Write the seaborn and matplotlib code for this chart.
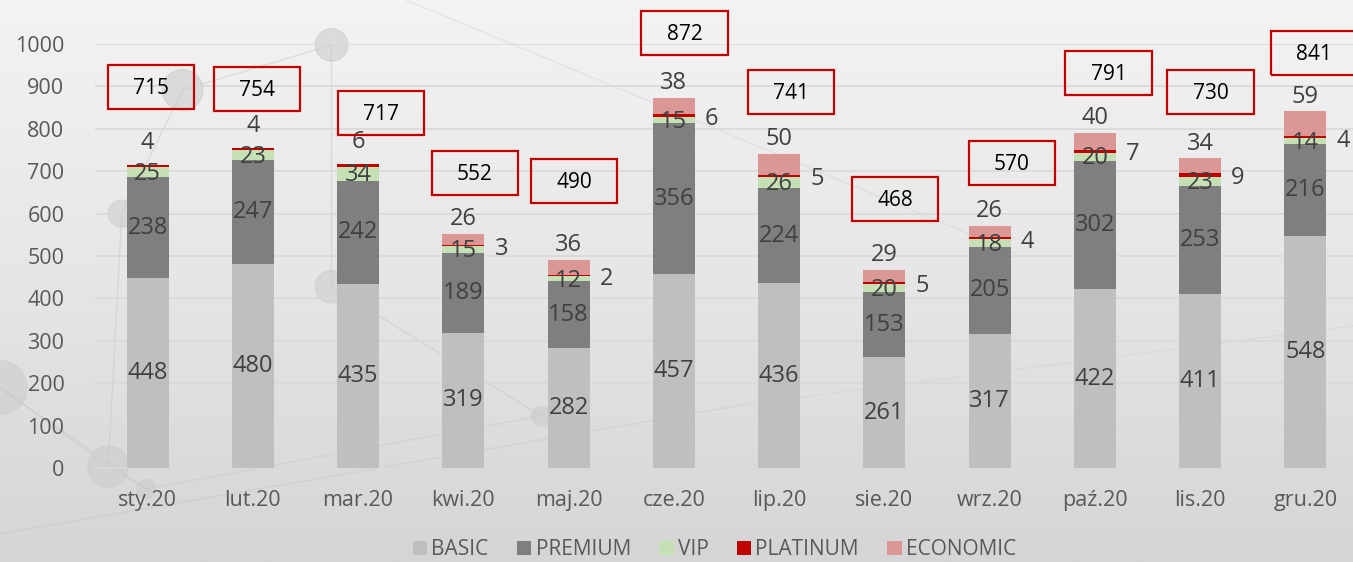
import numpy as np
import pandas as pd
import matplotlib
matplotlib.use("Agg")
import matplotlib.pyplot as plt
from matplotlib.patches import Patch, Rectangle, Ellipse
import seaborn as sns

# data
months = ["sty.20", "lut.20", "mar.20", "kwi.20", "maj.20", "cze.20",
          "lip.20", "sie.20", "wrz.20", "paź.20", "lis.20", "gru.20"]
basic = [448, 480, 435, 319, 282, 457, 436, 261, 317, 422, 411, 548]
premium = [238, 247, 242, 189, 158, 356, 224, 153, 205, 302, 253, 216]
vip = [25, 23, 34, 15, 12, 15, 26, 20, 18, 20, 23, 14]
platinum = [4, 4, 6, 3, 2, 6, 5, 5, 4, 7, 9, 4]
economic = [0, 0, 0, 26, 36, 38, 50, 29, 26, 40, 34, 59]
totals = [715, 754, 717, 552, 490, 872, 741, 468, 570, 791, 730, 841]

# where the hand-placed total boxes sit (offset from bar top / bar centre)
box_dy = [184, 140, 120, 144, 187, 154, 146, 166, 149, 141, 157, 138]
box_dx = [0.03, 0.04, 0.22, 0.11, 0.05, 0.10, 0.11, 0.10, 0.21, 0.13, 0.10, 0.08]

series = ["BASIC", "PREMIUM", "VIP", "PLATINUM", "ECONOMIC"]
colors = ["#bfbfbf", "#7f7f7f", "#c5e0b4", "#c00000", "#db9696"]
values = [basic, premium, vip, platinum, economic]

df = pd.DataFrame({"month": months})
for name, v in zip(series, values):
    df[name] = v

sns.set_style("white")
plt.rcParams["font.family"] = ["Open Sans", "DejaVu Sans"]

fig = plt.figure(figsize=(13.53, 5.62), dpi=100)
ratio = 1353 / 562

# grey gradient background with a faint network pattern
bg = fig.add_axes([0, 0, 1, 1], zorder=-10)
grad = np.linspace(0, 1, 256).reshape(-1, 1)
bg.imshow(grad, aspect="auto", cmap=matplotlib.colors.LinearSegmentedColormap.from_list(
    "bg", ["#f3f3f3", "#e6e6e6", "#d5d5d5"]), extent=[0, 1, 0, 1], origin="upper")
nodes = [(0.245, 0.92, 0.012), (0.40, 0.26, 0.007), (0.108, 0.13, 0.007),
         (0.08, 0.17, 0.015), (0.0, 0.31, 0.02), (0.245, 0.49, 0.012),
         (0.135, 0.84, 0.015), (0.09, 0.62, 0.01)]
edges = [(0, 5), (1, 2), (2, 3), (3, 4), (1, 5), (6, 0), (6, 7), (7, 3), (4, 2)]
for a, b in edges:
    bg.plot([nodes[a][0], nodes[b][0]], [nodes[a][1], nodes[b][1]],
            color="#c8c8c8", lw=1, alpha=0.5)
bg.plot([0.0, 0.55], [0.05, 0.28], color="#c8c8c8", lw=1, alpha=0.5)
bg.plot([0.30, 0.75], [1.0, 0.55], color="#d0d0d0", lw=1, alpha=0.4)
bg.plot([0.55, 1.0], [0.28, 0.42], color="#d0d0d0", lw=1, alpha=0.4)
for x, y, r in nodes:
    bg.add_patch(Ellipse((x, y), 2 * r, 2 * r * ratio, color="#cdcdcd", alpha=0.6))
bg.set_xlim(0, 1)
bg.set_ylim(0, 1)
bg.axis("off")

ax = fig.add_axes([0.0702, 0.1673, 0.9335, 0.7544])
ax.patch.set_alpha(0)

bottom = np.zeros(len(months))
for name, col in zip(series, colors):
    sns.barplot(data=df, x="month", y=name, color=col, saturation=1,
                width=0.4, bottom=bottom, ax=ax, zorder=3, linewidth=0,
                edgecolor="none")
    bottom += df[name].values

ax.set_ylim(0, 1000)
ax.set_xlim(-0.5, len(months) - 0.5)
ax.set_yticks(range(0, 1001, 100))
ax.yaxis.grid(True, color="#d9d9d9", lw=1.2, zorder=0)
ax.set_axisbelow(True)
ax.set_xlabel("")
ax.set_ylabel("")
for s in ["top", "right", "left"]:
    ax.spines[s].set_visible(False)
ax.spines["bottom"].set_color("#d9d9d9")
ax.tick_params(axis="both", length=0, labelsize=15.5, labelcolor="#595959")
ax.tick_params(axis="y", pad=22)
ax.tick_params(axis="x", pad=16)

lab = dict(ha="center", va="center", fontsize=17, color="#404040", zorder=5)
for i in range(len(months)):
    b, p, v, pl, e = basic[i], premium[i], vip[i], platinum[i], economic[i]
    ax.text(i, b / 2, str(b), **lab)
    ax.text(i, b + p / 2, str(p), **lab)
    ax.text(i, b + p + v / 2 - 4, str(v), **lab)
    top = b + p + v + pl + e
    if e > 0:
        ax.text(i + 0.36, b + p + v + pl / 2 - 8, str(pl), **lab)
        ax.text(i, top + 35, str(e), **lab)
    else:
        ax.text(i, top + 52, str(pl), **lab)
    # total in a red frame
    cx, cy = i + box_dx[i], totals[i] + box_dy[i]
    ax.add_patch(Rectangle((cx - 0.41, cy - 52), 0.82, 104, fill=False,
                           edgecolor="#c00000", lw=1.6, clip_on=False, zorder=6))
    ax.text(cx, cy - 4, str(totals[i]), ha="center", va="center", fontsize=15,
            color="black", clip_on=False, zorder=6)

handles = [Patch(facecolor=c, edgecolor="none", label=s) for s, c in zip(series, colors)]
fig.legend(handles=handles, loc="center", bbox_to_anchor=(0.528, 0.022), ncol=5,
           frameon=False, fontsize=15, handlelength=0.7, handleheight=0.7,
           handletextpad=0.2, columnspacing=1.35, labelcolor="#595959")

fig.savefig("out.png", dpi=100)
